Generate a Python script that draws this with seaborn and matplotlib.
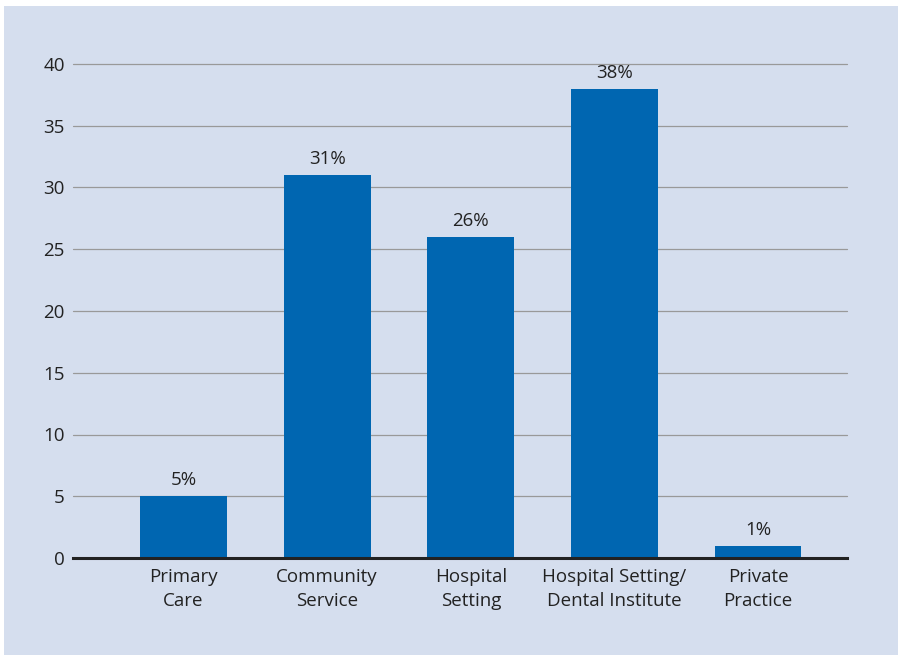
import matplotlib
matplotlib.use("Agg")
import matplotlib.pyplot as plt
import seaborn as sns
import pandas as pd
from matplotlib.patches import Rectangle

categories = ["Primary\nCare", "Community\nService", "Hospital\nSetting",
              "Hospital Setting/\nDental Institute", "Private\nPractice"]
values = [5, 31, 26, 38, 1]
value_labels = ["5%", "31%", "26%", "38%", "1%"]
yticks = [0, 5, 10, 15, 20, 25, 30, 35, 40]

bg = "#d5deee"
bar_color = "#0066b1"

sns.set_theme(style="white")
plt.rcParams["font.family"] = ["Open Sans", "DejaVu Sans"]

fig = plt.figure(figsize=(8.98, 6.57), dpi=100)
fig.patch.set_facecolor("white")
fig.patches.append(Rectangle((4 / 898, 2 / 657), 1 - 4 / 898, 1 - 8 / 657,
                             transform=fig.transFigure, facecolor=bg,
                             edgecolor="none", zorder=-10))

ax = fig.add_axes([73 / 898, 1 - 558 / 657, (847 - 73) / 898, (558 - 64) / 657])
ax.set_facecolor("none")

df = pd.DataFrame({"cat": categories, "val": values})
sns.barplot(data=df, x="cat", y="val", color=bar_color, saturation=1,
            width=0.605, linewidth=0, edgecolor="none", ax=ax, zorder=3)

ax.set_xlim(-0.77, 4.62)
ax.set_ylim(0, 40)
ax.set_yticks(yticks)
ax.set_yticklabels([str(t) for t in yticks], fontsize=13.5, color="#222222")
ax.tick_params(axis="y", length=0, pad=6)
ax.tick_params(axis="x", length=0, pad=7, labelsize=13.5, colors="#222222")
ax.set_xlabel("")
ax.set_ylabel("")

for t in yticks[1:]:
    ax.axhline(t, color="#999999", lw=0.9, zorder=1, clip_on=False)

for s in ["top", "right", "left"]:
    ax.spines[s].set_visible(False)
ax.spines["bottom"].set_color("#222222")
ax.spines["bottom"].set_linewidth(2.2)
ax.spines["bottom"].set_zorder(4)

for i, (v, lab) in enumerate(zip(values, value_labels)):
    ax.annotate(lab, (i, v), xytext=(0, 5), textcoords="offset points",
                ha="center", va="bottom", fontsize=13.5, color="#222222")

for lab in ax.get_xticklabels():
    lab.set_linespacing(1.45)

fig.savefig("out.png", dpi=100, facecolor=fig.get_facecolor())
